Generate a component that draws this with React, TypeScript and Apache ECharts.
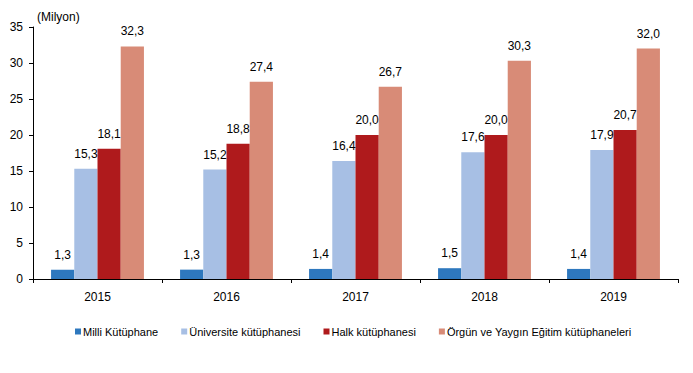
import React, { useEffect, useRef } from "react";
import * as echarts from "echarts";

const years = ["2015", "2016", "2017", "2018", "2019"];
const seriesNames = [
  "Milli Kütüphane",
  "Üniversite kütüphanesi",
  "Halk kütüphanesi",
  "Örgün ve Yaygın Eğitim kütüphaneleri",
];
const milli = [1.3, 1.3, 1.4, 1.5, 1.4];
const universite = [15.3, 15.2, 16.4, 17.6, 17.9];
const halk = [18.1, 18.8, 20.0, 20.0, 20.7];
const orgun = [32.3, 27.4, 26.7, 30.3, 32.0];
const colors = ["#2E78BE", "#A7BFE4", "#AF1A1C", "#D88B77"];

export default function App() {
  const ref = useRef<HTMLDivElement>(null);
  useEffect(() => {
    document.body.style.margin = "0";
    const chart = echarts.init(ref.current!, null, { renderer: "svg" });
    const font = "Arial, 'Liberation Sans', sans-serif";
    const data = [milli, universite, halk, orgun];
    chart.setOption({
      animation: false,
      textStyle: { fontFamily: font },
      grid: { left: 33, right: 15, top: 27, bottom: 94 },
      legend: {
        top: 321,
        left: 70,
        itemWidth: 6,
        itemHeight: 6,
        itemGap: 23,
        icon: "rect",
        textStyle: { fontSize: 11, color: "#000", fontFamily: font, padding: [0, 0, 0, -3] },
        data: seriesNames,
      },
      graphic: [
        {
          type: "text",
          left: 37,
          top: 11,
          style: { text: "(Milyon)", fontSize: 12, fill: "#000", fontFamily: font },
        },
      ],
      xAxis: {
        type: "category",
        data: years,
        axisLine: { lineStyle: { color: "#000", width: 1 } },
        axisTick: { show: true, length: 4, lineStyle: { color: "#000" } },
        axisLabel: { color: "#000", fontSize: 12, margin: 12, fontFamily: font },
      },
      yAxis: {
        type: "value",
        min: 0,
        max: 35,
        interval: 5,
        axisLine: { show: true, lineStyle: { color: "#000", width: 1 } },
        axisTick: { show: true, length: 4, lineStyle: { color: "#000" } },
        splitLine: { show: false },
        axisLabel: { color: "#000", fontSize: 12, margin: 10, fontFamily: font },
      },
      series: seriesNames.map((name, i) => ({
        name,
        type: "bar",
        data: data[i],
        barGap: "0%",
        barCategoryGap: "28%",
        itemStyle: { color: colors[i] },
        label: {
          show: true,
          position: "top",
          distance: 9,
          color: "#000",
          fontSize: 12,
          fontFamily: font,
          formatter: (p: any) => p.value.toFixed(1).replace(".", ","),
        },
      })),
    });
    return () => chart.dispose();
  }, []);
  return <div ref={ref} style={{ width: 693, height: 373 }} />;
}
